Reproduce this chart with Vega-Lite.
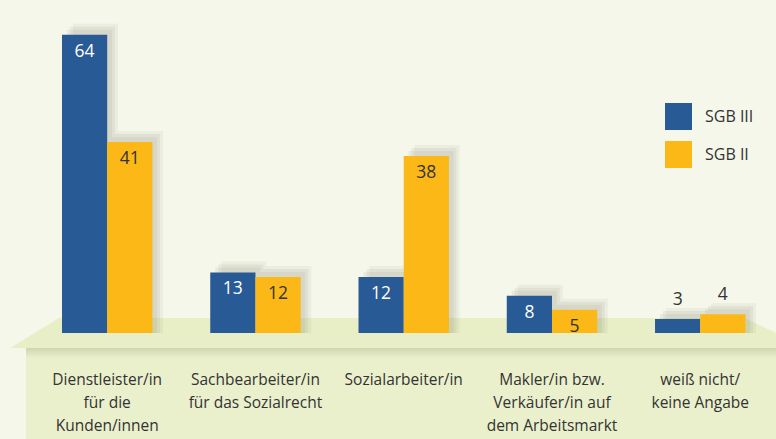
{
  "$schema": "https://vega.github.io/schema/vega-lite/v6.json",
  "width": 776,
  "height": 439,
  "autosize": "none",
  "padding": 0,
  "background": "#f5f7ea",
  "config": {"view": {"stroke": null}, "font": "Open Sans"},
  "datasets": {
    "main": [
      {"cat": "Dienstleister/in\nfür die\nKunden/innen", "group": "SGB III", "value": 64},
      {"cat": "Dienstleister/in\nfür die\nKunden/innen", "group": "SGB II", "value": 41},
      {"cat": "Sachbearbeiter/in\nfür das Sozialrecht", "group": "SGB III", "value": 13},
      {"cat": "Sachbearbeiter/in\nfür das Sozialrecht", "group": "SGB II", "value": 12},
      {"cat": "Sozialarbeiter/in", "group": "SGB III", "value": 12},
      {"cat": "Sozialarbeiter/in", "group": "SGB II", "value": 38},
      {"cat": "Makler/in bzw.\nVerkäufer/in auf\ndem Arbeitsmarkt", "group": "SGB III", "value": 8},
      {"cat": "Makler/in bzw.\nVerkäufer/in auf\ndem Arbeitsmarkt", "group": "SGB II", "value": 5},
      {"cat": "weiß nicht/\nkeine Angabe", "group": "SGB III", "value": 3},
      {"cat": "weiß nicht/\nkeine Angabe", "group": "SGB II", "value": 4}
    ],
    "platform": [
      {"pos": 1.3, "top": -3.2, "bottom": -3.2},
      {"pos": 7.6, "top": 3.2, "bottom": -3.2},
      {"pos": 96.0, "top": 3.2, "bottom": -3.2},
      {"pos": 100, "top": 0, "bottom": -3.2}
    ],
    "front": [
      {"start": 3.35, "end": 100, "top": -3.2, "bottom": -30}
    ],
    "edge": [
      {"start": 3.35, "end": 100, "top": -3.2, "bottom": -5.4}
    ]
  },
  "resolve": {"scale": {"x": "independent"}},
  "layer": [
    {
      "data": {"name": "front"},
      "mark": {"type": "rect", "color": "#eaf0cc"},
      "encoding": {
        "x": {"field": "start", "type": "quantitative", "scale": {"domain": [0, 100], "nice": false, "zero": false}, "axis": null},
        "x2": {"field": "end"},
        "y": {"field": "top", "type": "quantitative", "scale": {"domain": [-22.75, 71.46], "nice": false, "zero": false}, "axis": null},
        "y2": {"field": "bottom"}
      }
    },
    {
      "data": {"name": "edge"},
      "mark": {"type": "rect", "color": {"gradient": "linear", "x1": 0, "y1": 0, "x2": 0, "y2": 1, "stops": [{"offset": 0, "color": "#cfd5ae"}, {"offset": 1, "color": "#eaf0cc"}]}},
      "encoding": {
        "x": {"field": "start", "type": "quantitative", "scale": {"domain": [0, 100], "nice": false, "zero": false}, "axis": null},
        "x2": {"field": "end"},
        "y": {"field": "top", "type": "quantitative", "axis": null},
        "y2": {"field": "bottom"}
      }
    },
    {
      "data": {"name": "platform"},
      "mark": {"type": "area", "color": "#e8efc6", "orient": "vertical"},
      "encoding": {
        "x": {"field": "pos", "type": "quantitative", "scale": {"domain": [0, 100], "nice": false, "zero": false}, "axis": null},
        "y": {"field": "top", "type": "quantitative", "axis": null},
        "y2": {"field": "bottom"}
      }
    },
    {
      "data": {"name": "main"},
      "resolve": {"scale": {"xOffset": "independent"}},
      "layer": [
        {
          "mark": {"type": "bar", "color": "#7d7d6a", "opacity": 0.1, "yOffset": -5},
          "encoding": {
            "x": {"field": "cat", "type": "nominal", "sort": null, "scale": {"paddingInner": 0.39, "paddingOuter": 0.312, "align": 0.67}, "axis": null},
            "xOffset": {"field": "group", "type": "nominal", "sort": ["SGB III", "SGB II"], "scale": {"range": [5, 95]}},
            "y": {"field": "value", "type": "quantitative", "axis": null},
            "y2": {"datum": 0}
          }
        },
        {
          "mark": {"type": "bar", "color": "#7d7d6a", "opacity": 0.1, "yOffset": -8},
          "encoding": {
            "x": {"field": "cat", "type": "nominal", "sort": null, "axis": null},
            "xOffset": {"field": "group", "type": "nominal", "sort": ["SGB III", "SGB II"], "scale": {"range": [8, 98]}},
            "y": {"field": "value", "type": "quantitative", "axis": null},
            "y2": {"datum": 0}
          }
        },
        {
          "mark": {"type": "bar", "color": "#7d7d6a", "opacity": 0.08, "yOffset": -11},
          "encoding": {
            "x": {"field": "cat", "type": "nominal", "sort": null, "axis": null},
            "xOffset": {"field": "group", "type": "nominal", "sort": ["SGB III", "SGB II"], "scale": {"range": [11, 101]}},
            "y": {"field": "value", "type": "quantitative", "axis": null},
            "y2": {"datum": 0}
          }
        },
        {
          "mark": {"type": "bar"},
          "encoding": {
            "x": {"field": "cat", "type": "nominal", "sort": null, "axis": null},
            "xOffset": {"field": "group", "type": "nominal", "sort": ["SGB III", "SGB II"]},
            "y": {"field": "value", "type": "quantitative", "axis": null},
            "y2": {"datum": 0},
            "color": {
              "field": "group", "type": "nominal",
              "scale": {"domain": ["SGB III", "SGB II"], "range": ["#285a95", "#fbb817"]},
              "legend": {
                "title": null, "orient": "none", "legendX": 665, "legendY": 103,
                "symbolType": "square", "symbolSize": 729, "symbolStrokeWidth": 0,
                "rowPadding": 11, "labelFontSize": 16, "labelColor": "#333333",
                "labelOffset": 13, "padding": 0
              }
            }
          }
        },
        {
          "transform": [{"filter": "datum.value >= 5"}],
          "mark": {"type": "text", "dy": 17, "fontSize": 17.5, "baseline": "middle"},
          "encoding": {
            "x": {"field": "cat", "type": "nominal", "sort": null, "axis": null},
            "xOffset": {"field": "group", "type": "nominal", "sort": ["SGB III", "SGB II"]},
            "y": {"field": "value", "type": "quantitative", "axis": null},
            "text": {"field": "value"},
            "color": {"condition": {"test": "datum.group === 'SGB III'", "value": "#ffffff"}, "value": "#333333"}
          }
        },
        {
          "transform": [{"filter": "datum.value < 5"}],
          "mark": {"type": "text", "dy": -19, "fontSize": 17.5, "baseline": "middle", "color": "#333333"},
          "encoding": {
            "x": {"field": "cat", "type": "nominal", "sort": null, "axis": null},
            "xOffset": {"field": "group", "type": "nominal", "sort": ["SGB III", "SGB II"]},
            "y": {"field": "value", "type": "quantitative", "axis": null},
            "text": {"field": "value"}
          }
        },
        {
          "transform": [{"filter": "datum.group === 'SGB III'"}],
          "mark": {"type": "text", "fontSize": 15.5, "baseline": "top", "align": "center", "lineBreak": "\n", "lineHeight": 23, "color": "#333333"},
          "encoding": {
            "x": {"field": "cat", "type": "nominal", "sort": null, "axis": null},
            "y": {"datum": -8.6, "type": "quantitative", "axis": null},
            "text": {"field": "cat"}
          }
        }
      ]
    }
  ]
}
